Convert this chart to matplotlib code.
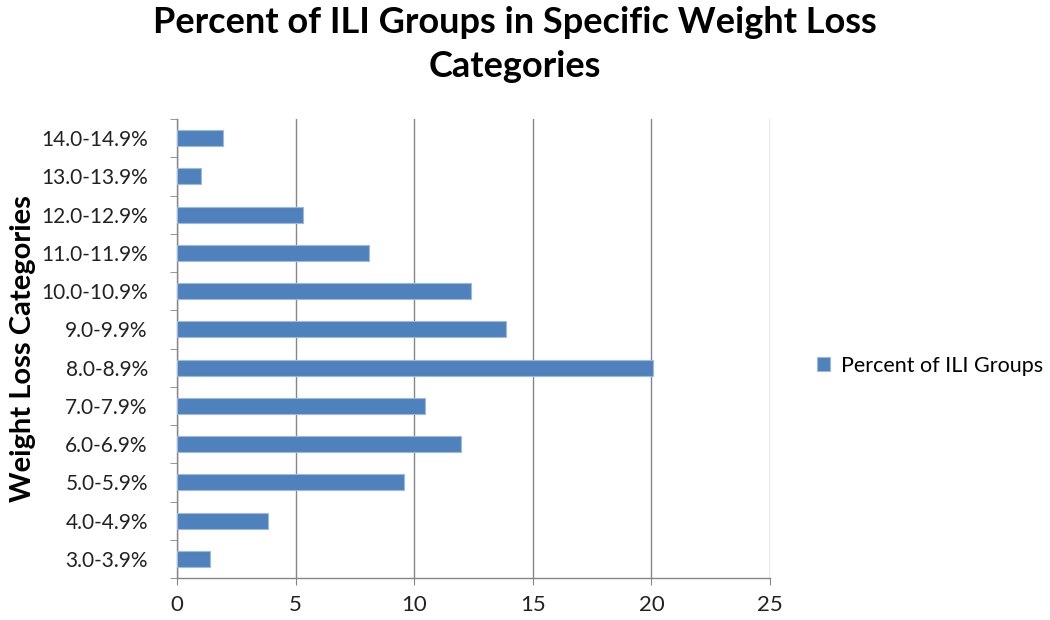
import matplotlib.pyplot as plt

plt.rcParams['font.family'] = ['Lato', 'DejaVu Sans']

categories = ['3.0-3.9%', '4.0-4.9%', '5.0-5.9%', '6.0-6.9%', '7.0-7.9%', '8.0-8.9%',
              '9.0-9.9%', '10.0-10.9%', '11.0-11.9%', '12.0-12.9%', '13.0-13.9%', '14.0-14.9%']
percent = [1.4, 3.83, 9.56, 11.98, 10.46, 20.05, 13.86, 12.41, 8.09, 5.31, 0.99, 1.93]
xticks = [0, 5, 10, 15, 20, 25]

fig = plt.figure(figsize=(10.5, 6.2), dpi=100)
ax = fig.add_axes([0.1686, 0.0677, 0.5647, 0.7403])

ax.barh(range(len(categories)), percent, height=0.42, color='#4F81BD',
        edgecolor='#9DB9DD', linewidth=0.8, label='Percent of ILI Groups', zorder=3)

ax.set_xlim(0, 25)
ax.set_ylim(-0.5, len(categories) - 0.5)
ax.set_xticks(xticks)
ax.set_yticks(range(len(categories)))
ax.set_yticklabels(categories)
# boundary ticks between categories, like excel
ax.set_yticks([i - 0.5 for i in range(len(categories) + 1)], minor=True)
ax.tick_params(axis='y', which='major', length=0, pad=21, labelsize=15, labelcolor='#222222')
ax.tick_params(axis='y', which='minor', length=5, color='#868686', direction='out')
ax.tick_params(axis='x', length=5, color='#868686', labelsize=16, labelcolor='#222222', pad=7)

ax.grid(axis='x', color='#868686', linewidth=1, zorder=0)
for s in ['top', 'right']:
    ax.spines[s].set_visible(False)
for s in ['left', 'bottom']:
    ax.spines[s].set_color('#868686')
    ax.spines[s].set_linewidth(1)

ax.set_ylabel('Weight Loss Categories', fontsize=21, fontweight='bold')
ax.yaxis.set_label_coords(-0.238, 0.5)

fig.text(0.49, 0.99, 'Percent of ILI Groups in Specific Weight Loss\nCategories',
         ha='center', va='top', fontsize=26, fontweight='bold', linespacing=1.4)

fig.legend(loc='center left', bbox_to_anchor=(0.76, 0.41), frameon=False,
           fontsize=15.5, handlelength=0.6, handleheight=0.6, handletextpad=0.5)

fig.savefig('out.png', dpi=100)
